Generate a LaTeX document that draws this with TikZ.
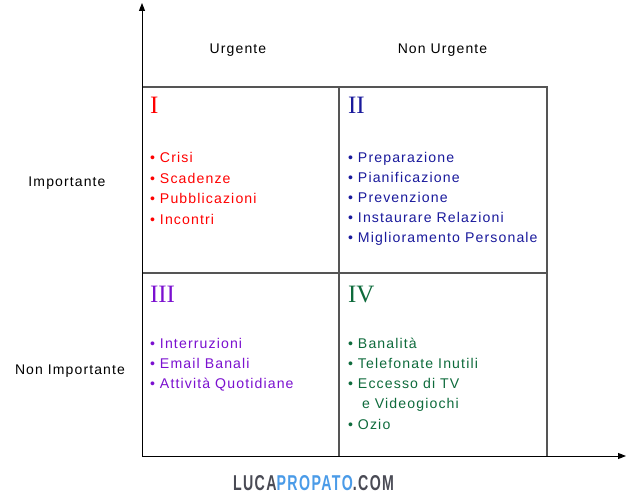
\documentclass[tikz,border=0pt]{standalone}
\usepackage{fontspec}
\setmainfont{Liberation Sans}[LetterSpace=8]
\newfontfamily\romanfont{Liberation Serif}
\usetikzlibrary{arrows.meta}
\definecolor{qred}{HTML}{FF0000}
\definecolor{qblue}{HTML}{1A1A9C}
\definecolor{qpurple}{HTML}{7B10D0}
\definecolor{qgreen}{HTML}{0E6B3C}
\definecolor{gridgray}{HTML}{555555}
\definecolor{logogray}{HTML}{4A4B55}
\definecolor{logoblue}{HTML}{4A9BE8}
\begin{document}
\begin{tikzpicture}[x=1pt,y=-1pt,
  every node/.style={inner sep=0pt, outer sep=0pt},
  lbl/.style={font=\fontsize{14}{17}\selectfont, text=black, anchor=base},
  item/.style={font=\fontsize{14.1}{17}\selectfont, anchor=base west},
  numeral/.style={font=\romanfont\fontsize{25}{30}\selectfont, anchor=base west},
  gridline/.style={draw=gridgray, line width=1.2pt},
  axis/.style={draw=black, line width=1pt, -{Triangle[length=8pt,width=6pt]}}]
\useasboundingbox (0,0) rectangle (630,500);
\fill[white] (0,0) rectangle (630,500);
% coordinates
\coordinate (O) at (142,456);
\coordinate (ytip) at (142,3);
\coordinate (xtip) at (626,456);
\coordinate (tl) at (142,87);
\coordinate (tm) at (339,87);
\coordinate (tr) at (547,87);
\coordinate (mr) at (547,273);
\coordinate (ml) at (142,273);
\coordinate (bm) at (339,456);
\coordinate (br) at (547,456);
% grid
\draw[gridline] (tl) -- (tr) -- (br);
\draw[gridline] (tm) -- (bm);
\draw[gridline] (ml) -- (mr);
% axes
\draw[axis] (O) -- (ytip);
\draw[axis] (O) -- (xtip);
% headers
\node[lbl] (urg) at (238,53.5) {Urgente};
\node[lbl] (nurg) at (442.5,53.5) {Non Urgente};
\node[lbl] (imp) at (67,186.5) {Importante};
\node[lbl] (nimp) at (70,374.5) {Non Importante};
% numerals
\node[numeral, text=qred] (n1) at (150,114) {I};
\node[numeral, text=qblue] (n2) at (348,114) {II};
\node[numeral, text=qpurple] (n3) at (150,302) {III};
\node[numeral, text=qgreen] (n4) at (348,302) {IV};
% quadrant I
\begin{scope}[every node/.append style={item, text=qred}]
\node (a1) at (150,162.5) {• Crisi};
\node (a2) at (150,183.5) {• Scadenze};
\node (a3) at (150,203.5) {• Pubblicazioni};
\node (a4) at (150,224.5) {• Incontri};
\end{scope}
% quadrant II
\begin{scope}[every node/.append style={item, text=qblue}]
\node (b1) at (348,162.5) {• Preparazione};
\node (b2) at (348,182.5) {• Pianificazione};
\node (b3) at (348,202.5) {• Prevenzione};
\node (b4) at (348,222.5) {• Instaurare Relazioni};
\node (b5) at (348,242.5) {• Miglioramento Personale};
\end{scope}
% quadrant III
\begin{scope}[every node/.append style={item, text=qpurple}]
\node (c1) at (150,348.5) {• Interruzioni};
\node (c2) at (150,368.5) {• Email Banali};
\node (c3) at (150,388.5) {• Attività Quotidiane};
\end{scope}
% quadrant IV
\begin{scope}[every node/.append style={item, text=qgreen}]
\node (d1) at (348,348.5) {• Banalità};
\node (d2) at (348,368.5) {• Telefonate Inutili};
\node (d3) at (348,388.5) {• Eccesso di TV};
\node (d4) at (362,408.5) {e Videogiochi};
\node (d5) at (348,429.5) {• Ozio};
\end{scope}
% logo
\node[anchor=base west] (logo) at (233,490) {\resizebox{161pt}{15pt}{\fontspec{Liberation Sans}[LetterSpace=10]\bfseries\textcolor{logogray}{LUCA}\textcolor{logoblue}{PROPATO}\textcolor{logogray}{.COM}}};
\end{tikzpicture}
\end{document}
